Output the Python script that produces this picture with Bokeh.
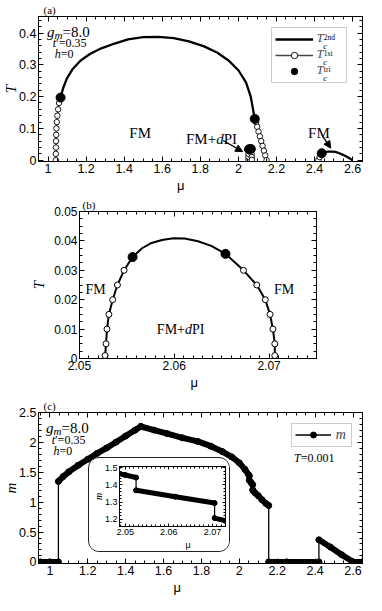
import math
from bokeh.plotting import figure
from bokeh.models import (Range1d, LinearAxis, SingleIntervalTicker, CustomJSTickFormatter,
                          Label, Arrow, NormalHead, Legend, LegendItem, Column, Title)
from bokeh.embed import file_html
from bokeh.resources import INLINE

SANS = "Liberation Sans"
SERIF = "Liberation Serif"

# ---------------- data: panel (a) ----------------
a_tc2_mu = [1.066, 1.08, 1.10, 1.13, 1.17, 1.22, 1.28, 1.35, 1.42, 1.50, 1.58, 1.66, 1.74, 1.82, 1.89, 1.95, 2.00, 2.04, 2.065, 2.086]
a_tc2_T = [0.197, 0.228, 0.258, 0.287, 0.313, 0.334, 0.352, 0.367, 0.380, 0.387, 0.388, 0.384, 0.374, 0.358, 0.338, 0.313, 0.283, 0.245, 0.200, 0.130]
a_tc2_fm_mu = [2.438, 2.45, 2.47, 2.49, 2.51, 2.53, 2.55, 2.57, 2.59, 2.60]
a_tc2_fm_T = [0.022, 0.025, 0.027, 0.027, 0.026, 0.022, 0.017, 0.011, 0.004, 0.0]
a_tc1_left_mu = [1.041, 1.041, 1.042, 1.042, 1.043, 1.044, 1.046, 1.049, 1.053, 1.058]
a_tc1_left_T = [0.0, 0.02, 0.04, 0.06, 0.08, 0.10, 0.12, 0.14, 0.16, 0.18]
a_tc1_right_mu = [2.093, 2.099, 2.106, 2.113, 2.120, 2.127, 2.134, 2.141, 2.148]
a_tc1_right_T = [0.12, 0.105, 0.09, 0.075, 0.06, 0.045, 0.03, 0.015, 0.0]
a_tc1_midl_mu = [2.0527, 2.0529, 2.0535]
a_tc1_midl_T = [0.001, 0.01, 0.02]
a_tc1_midr_mu = [2.0696, 2.0704, 2.0706]
a_tc1_midr_T = [0.02, 0.01, 0.001]
a_tc1_fm_mu = [2.420, 2.427]
a_tc1_fm_T = [0.0, 0.01]
tri_mu = [1.066, 2.0556, 2.0654, 2.086, 2.438]
tri_T = [0.197, 0.0345, 0.0356, 0.130, 0.022]

# ---------------- data: panel (b) ----------------
b_tc1_left_mu = [2.0527, 2.0528, 2.0529, 2.0531, 2.0535, 2.0540, 2.0547]
b_tc1_left_T = [0.001, 0.005, 0.010, 0.015, 0.020, 0.025, 0.030]
b_tc2_mu = [2.0556, 2.0566, 2.0576, 2.0587, 2.0599, 2.0611, 2.0625, 2.0639, 2.0654]
b_tc2_T = [0.0345, 0.0375, 0.0393, 0.0403, 0.0409, 0.0408, 0.0399, 0.0383, 0.0356]
b_tc1_right_mu = [2.0673, 2.0687, 2.0696, 2.0701, 2.0704, 2.0706, 2.0706]
b_tc1_right_T = [0.030, 0.025, 0.020, 0.015, 0.010, 0.005, 0.001]

# ---------------- data: panel (c), magnetization m at T=0.001 ----------------
c_br1_mu = [0.95, 1.0, 1.045]
c_br1_m = [0.0, 0.0, 0.0]
c_br2_mu = [1.045, 1.07, 1.10, 1.15, 1.20, 1.25, 1.30, 1.35, 1.40, 1.45, 1.48]
c_br2_m = [1.35, 1.43, 1.51, 1.62, 1.72, 1.82, 1.91, 2.01, 2.11, 2.21, 2.27]
c_br3_mu = [1.48, 1.55, 1.62, 1.70, 1.78, 1.85, 1.91, 1.96, 2.00, 2.03, 2.05, 2.0525]
c_br3_m = [2.27, 2.21, 2.15, 2.08, 2.02, 1.94, 1.85, 1.76, 1.66, 1.55, 1.458, 1.443]
c_br4_mu = [2.0525, 2.0615, 2.0705]
c_br4_m = [1.369, 1.332, 1.295]
c_br5_mu = [2.0705, 2.073, 2.085, 2.10, 2.12, 2.14, 2.155]
c_br5_m = [1.208, 1.192, 1.15, 1.11, 1.04, 0.98, 0.945]
c_br6_mu = [2.155, 2.25, 2.42]
c_br6_m = [0.0, 0.0, 0.0]
c_br7_mu = [2.42, 2.48, 2.54, 2.60, 2.65]
c_br7_m = [0.37, 0.25, 0.12, 0.0, 0.0]
c_branches = [(c_br1_mu, c_br1_m), (c_br2_mu, c_br2_m), (c_br3_mu, c_br3_m), (c_br4_mu, c_br4_m),
              (c_br5_mu, c_br5_m), (c_br6_mu, c_br6_m), (c_br7_mu, c_br7_m)]

# ---------------- helpers ----------------
W_REG = {'F': .556, 'M': .889, '+': .564, 'P': .556, 'I': .333, '=': .564, '.': .25, "'": .18, '\u2032': .27,
         '(': .333, ')': .333, 'a': .444, 'b': .5, 'c': .444, 'n': .5, 'd': .5, 's': .389, 't': .278,
         'r': .333, 'i': .278}
W_IT = {'g': .5, 'm': .722, 't': .278, 'h': .5, 'd': .5, 'T': .556, 'c': .444}


def textw(s, size, italic):
    tab = W_IT if italic else W_REG
    return sum(tab.get(ch, .5) for ch in s) * size


def rich(p, FH, x, y, parts, align="left", font=SERIF, level="annotation"):
    total = sum(textw(t, s, it) for t, s, it, dy in parts)
    cx = x - total / 2 if align == "center" else x
    for t, s, it, dy in parts:
        p.add_layout(Label(x=cx, y=FH - y - dy, x_units="screen", y_units="screen", text=t,
                           text_font=font, text_font_size=f"{s}px", level=level,
                           text_font_style="italic" if it else "normal",
                           text_baseline="alphabetic", text_align="left", text_color="black"))
        cx += textw(t, s, it)


FMT = "return String(Math.round(tick*10000)/10000);"


def style_axis(ax, fs, show=True, tin=5, tmin=3):
    ax.major_tick_in = tin
    ax.major_tick_out = 0
    ax.minor_tick_in = tmin
    ax.minor_tick_out = 0
    ax.axis_line_color = "black"
    ax.major_tick_line_color = "black"
    ax.minor_tick_line_color = "black"
    ax.major_label_text_font = SANS
    ax.formatter = CustomJSTickFormatter(code=FMT)
    if show:
        ax.major_label_text_color = "black"
        ax.major_label_text_font_size = f"{fs}px"
        ax.major_label_standoff = 2
    else:
        ax.major_label_text_color = None
        ax.major_label_text_font_size = "1px"
        ax.major_label_standoff = 0


def make_fig(w, h, xr, yr, bl, br, bt, bb, xint, xmin, yint, ymin, fs, tin=5, tmin=3):
    p = figure(width=w, height=h, x_range=Range1d(*xr), y_range=Range1d(*yr),
               output_backend="svg", toolbar_location=None, frame_align=False,
               min_border_left=bl, min_border_right=br, min_border_top=bt, min_border_bottom=bb,
               background_fill_color="white", border_fill_color="white")
    p.xgrid.visible = False
    p.ygrid.visible = False
    p.outline_line_color = "black"
    p.outline_line_width = 1
    p.xaxis.ticker = SingleIntervalTicker(interval=xint, num_minor_ticks=xmin)
    p.yaxis.ticker = SingleIntervalTicker(interval=yint, num_minor_ticks=ymin)
    style_axis(p.xaxis[0], fs, True, tin, tmin)
    style_axis(p.yaxis[0], fs, True, tin, tmin)
    ra = LinearAxis(ticker=SingleIntervalTicker(interval=yint, num_minor_ticks=ymin))
    style_axis(ra, fs, False, tin, tmin)
    p.add_layout(ra, "right")
    ta = LinearAxis(ticker=SingleIntervalTicker(interval=xint, num_minor_ticks=xmin))
    style_axis(ta, fs, False, tin, tmin)
    p.add_layout(ta, "above")
    return p


def panel_title(p, text, offset):
    p.title.text = text
    p.title.align = "left"
    p.title.offset = offset
    p.title.standoff = 1
    p.title.text_font = SERIF
    p.title.text_font_style = "normal"
    p.title.text_font_size = "11px"
    p.title.text_color = "black"


def y_title(p, text, size, standoff=-3):
    ax = p.yaxis[0]
    ax.axis_label = text
    ax.axis_label_text_font = SERIF
    ax.axis_label_text_font_style = "italic"
    ax.axis_label_text_font_size = f"{size}px"
    ax.axis_label_text_color = "black"
    ax.axis_label_standoff = standoff


def mu_title(p, offset, size):
    p.add_layout(Title(text="\u03bc", align="left", offset=offset, standoff=0,
                       text_font=SANS, text_font_style="normal", text_font_size=f"{size}px",
                       text_color="black"), "below")


TICK = 12.5

# ================= panel (a) =================
WA, HA, BLA, BRA, BTA, BBA = 366, 193, 36, 4, 16, 32
FWA, FHA = WA - BLA - BRA, HA - BTA - BBA
pa = make_fig(WA, HA, (0.95, 2.652), (-0.004, 0.452), BLA, BRA, BTA, BBA, 0.2, 4, 0.1, 5, TICK)
panel_title(pa, "(a)", 5)
y_title(pa, "T", 15)


def mA(X, Y):
    return (X - 33) / 343 * FWA, (Y - 15) / 160 * FHA


mu_title(pa, mA(183, 0)[0] - 4, 13)

r_tc2 = pa.line(a_tc2_mu, a_tc2_T, line_color="black", line_width=2.3)
pa.line(a_tc2_fm_mu, a_tc2_fm_T, line_color="black", line_width=2.3)
pa.line(b_tc2_mu, b_tc2_T, line_color="black", line_width=2.3)
r_l1 = pa.line(a_tc1_left_mu + [a_tc2_mu[0]], a_tc1_left_T + [a_tc2_T[0]], line_color="#444", line_width=1.3)
pa.line([a_tc2_mu[-1]] + a_tc1_right_mu, [a_tc2_T[-1]] + a_tc1_right_T, line_color="#444", line_width=1.3)
pa.line(a_tc1_midl_mu, a_tc1_midl_T, line_color="#444", line_width=1.3)
pa.line(a_tc1_midr_mu, a_tc1_midr_T, line_color="#444", line_width=1.3)
pa.line(a_tc1_fm_mu + [a_tc2_fm_mu[0]], a_tc1_fm_T + [a_tc2_fm_T[0]], line_color="#444", line_width=1.3)
oc = dict(size=5.5, fill_color="white", line_color="black", line_width=0.9)
r_s1 = pa.scatter(a_tc1_left_mu, a_tc1_left_T, **oc)
pa.scatter(a_tc1_right_mu, a_tc1_right_T, **oc)
pa.scatter(a_tc1_midl_mu, a_tc1_midl_T, **oc)
pa.scatter(a_tc1_midr_mu, a_tc1_midr_T, **oc)
pa.scatter(a_tc1_fm_mu, a_tc1_fm_T, **oc)
r_tri = pa.scatter(tri_mu, tri_T, size=9, fill_color="black", line_color="black")

# legend of (a): box anchored by its bottom-left corner (frame pixels); transparent fill
# so that the sub/superscripts drawn as labels stay visible
LP, LGW, LGH, LSP, LST, LLW = 3, 38, 16, 0, 4, 26
leg_left, leg_top = mA(278, 29)
leg_h = 2 * LP + 3 * LGH + 2 * LSP
leg_a = Legend(items=[LegendItem(label="T", renderers=[r_tc2]),
                      LegendItem(label="T", renderers=[r_l1, r_s1]),
                      LegendItem(label="T", renderers=[r_tri])],
               location=(leg_left, FHA - leg_top - leg_h), padding=LP, spacing=LSP, margin=0,
               glyph_width=LGW, glyph_height=LGH, label_height=LGH, label_width=LLW,
               label_standoff=LST, border_line_color="#999", border_line_width=1,
               background_fill_color="white", background_fill_alpha=0,
               label_text_font=SERIF, label_text_font_style="italic", label_text_font_size="12px")
pa.add_layout(leg_a)
tx = leg_left + LP + LGW + LST + 7
for i, sup in enumerate(["2nd", "1st", "tri"]):
    cy = leg_top + LP + i * (LGH + LSP) + LGH / 2
    rich(pa, FHA, tx, cy + 5.5, [("c", 8.5, True, 0)], level="overlay")
    rich(pa, FHA, tx + 0.5, cy - 2.5, [(sup, 7.5, False, 0)], level="overlay")

rich(pa, FHA, *mA(42, 32), [("g", 15, True, 0), ("m", 11, True, 3), ("=8.0", 15, False, 0)])
rich(pa, FHA, *mA(48, 44.5), [("t", 12, True, 0), ("\u2032=0.35", 12, False, 0)])
rich(pa, FHA, *mA(50, 56.5), [("h", 12, True, 0), ("=0", 12, False, 0)])
rich(pa, FHA, *mA(140, 143), [("FM", 15, False, 0)], align="center")
rich(pa, FHA, *mA(215, 150), [("FM+", 15, False, 0), ("d", 15, True, 0), ("PI", 15, False, 0)], align="center")
rich(pa, FHA, *mA(328, 143), [("FM", 15, False, 0)], align="center")
for xs, ys, xe, ye in [(1.92, 0.062, 2.022, 0.027), (2.443, 0.076, 2.485, 0.038)]:
    pa.add_layout(Arrow(end=NormalHead(size=7, fill_color="black", line_color="black"),
                        x_start=xs, y_start=ys, x_end=xe, y_end=ye, line_width=1.3, line_color="black"))

# ================= panel (b) =================
WB, HB, BLB, BRB, BTB, BBB = 366, 197, 79, 50, 18, 32
FWB, FHB = WB - BLB - BRB, HB - BTB - BBB
pb = make_fig(WB, HB, (2.05, 2.075), (0.0, 0.05), BLB, BRB, BTB, BBB, 0.01, 10, 0.01, 4, 12)
panel_title(pb, "(b)", 3)
y_title(pb, "T", 15, standoff=4)


def mB(X, Y):
    return (X - 87) / 239 * FWB, (Y - 222) / 157 * FHB


mu_title(pb, mB(203, 0)[0] - 4, 13)
full_mu = b_tc1_left_mu + b_tc2_mu + b_tc1_right_mu
full_T = b_tc1_left_T + b_tc2_T + b_tc1_right_T
pb.line(full_mu, full_T, line_color="black", line_width=2)
pb.scatter(b_tc1_left_mu, b_tc1_left_T, size=6, fill_color="white", line_color="black", line_width=1)
pb.scatter(b_tc1_right_mu, b_tc1_right_T, size=6, fill_color="white", line_color="black", line_width=1)
pb.scatter(tri_mu, tri_T, size=9, fill_color="black", line_color="black")
rich(pb, FHB, *mB(103.3, 305), [("FM", 14, False, 0)], align="center")
rich(pb, FHB, *mB(293.3, 305), [("FM", 14, False, 0)], align="center")
rich(pb, FHB, *mB(189, 348), [("FM+", 14, False, 0), ("d", 14, True, 0), ("PI", 14, False, 0)], align="center")

# ================= panel (c) =================
WC, HC, BLC, BRC, BTC, BBC = 366, 205, 36, 4, 22, 32
FWC, FHC = WC - BLC - BRC, HC - BTC - BBC
pc = make_fig(WC, HC, (0.94, 2.65), (-0.027, 2.505), BLC, BRC, BTC, BBC, 0.2, 4, 0.5, 5, TICK)
panel_title(pc, "(c)", 5)
y_title(pc, "m", 15)


def mC(X, Y):
    return (X - 33) / 347 * FWC, (Y - 428) / 162 * FHC


mu_title(pc, mC(181, 0)[0] - 4, 13)
all_mu = sum([b[0] for b in c_branches], [])
all_m = sum([b[1] for b in c_branches], [])
r_thin = pc.line(all_mu, all_m, line_color="black", line_width=1.3)
for bm, bv in c_branches:
    pc.line(bm, bv, line_color="black", line_width=6, line_cap="round", line_join="round")
r_pts = pc.scatter(all_mu, all_m, size=6, fill_color="black", line_color="black")
lc_left, lc_top = mC(302, 443)
lc_h = 2 * 3 + 15
leg_c = Legend(items=[LegendItem(label="m", renderers=[r_thin, r_pts])],
               location=(lc_left, FHC - lc_top - lc_h), margin=0, padding=3, glyph_width=36,
               glyph_height=15, label_height=15, label_width=12, label_standoff=5,
               border_line_color="#999", border_line_width=1, background_fill_color="white",
               label_text_font=SERIF, label_text_font_style="italic", label_text_font_size="14px")
pc.add_layout(leg_c)
rich(pc, FHC, *mC(41, 445), [("g", 15, True, 0), ("m", 11, True, 3), ("=8.0", 15, False, 0)])
rich(pc, FHC, *mC(47, 457), [("t", 12, True, 0), ("\u2032=0.35", 12, False, 0)])
rich(pc, FHC, *mC(49, 469), [("h", 12, True, 0), ("=0", 12, False, 0)])
rich(pc, FHC, *mC(305, 477), [("T", 12, True, 0), ("=0.001", 12, False, 0)])

# ================= inset of (c) =================
c_frame_left = 8 + BLC
c_frame_top = 8 + HA + HB + BTC


def pageC(X, Y):
    sx, sy = mC(X, Y)
    return c_frame_left + sx, c_frame_top + sy


box_l, box_t = pageC(88, 476)
box_r, box_b = pageC(239, 578)
WI, HI = int(round(box_r - box_l)), int(round(box_b - box_t))
BLI, BRI, BTI, BBI = 24, 6, 8, 27
FWI = WI - BLI - BRI
pi_ = make_fig(WI, HI, (2.0487, 2.073), (1.159, 1.507), BLI, BRI, BTI, BBI, 0.01, 10, 0.1, 5, 9, tin=3, tmin=2)
y_title(pi_, "m", 10, standoff=-2)
mu_title(pi_, (185 - 110) / 121.7 * FWI - 3, 9)
pi_.line(all_mu, all_m, line_color="black", line_width=1.2)
for bm, bv in c_branches:
    pi_.line(bm, bv, line_color="black", line_width=5, line_cap="round", line_join="round")
pi_.scatter(all_mu, all_m, size=5, fill_color="black", line_color="black")

pi_.styles = {"position": "absolute", "left": f"{round(box_l - 8)}px", "top": f"{round(box_t - 8)}px",
              "border": "1px solid #222", "border-radius": "11px", "overflow": "hidden",
              "background": "white"}

layout = Column(children=[pa, pb, pc, pi_], styles={"position": "relative"})

open("out.html", "w").write(file_html(layout, INLINE))
